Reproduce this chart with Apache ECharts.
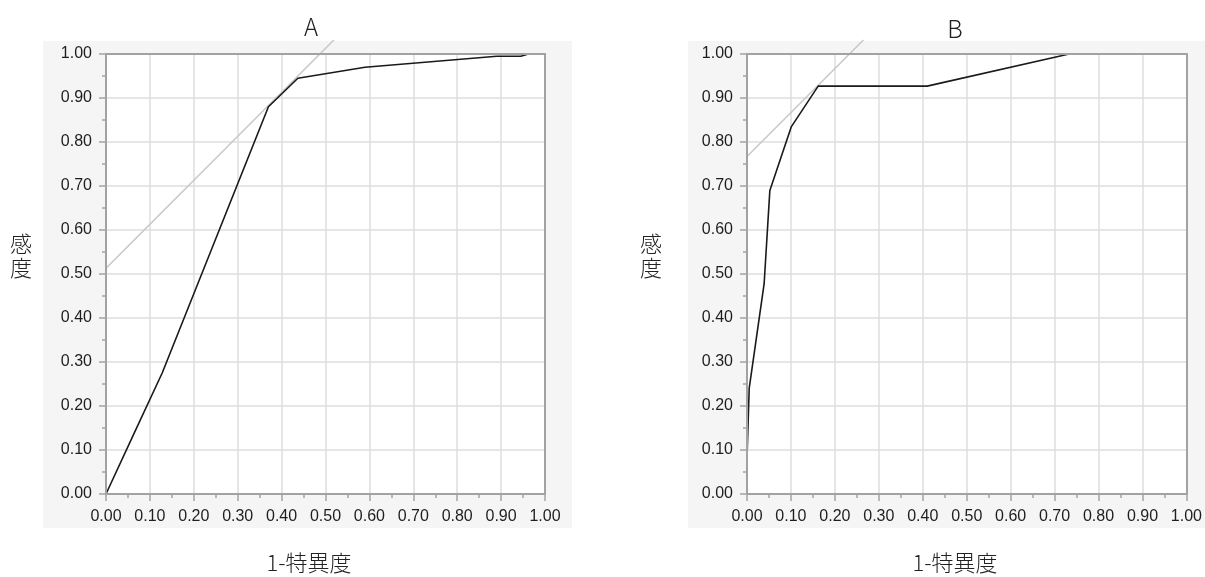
<!DOCTYPE html>
<html>
<head>
<meta charset="utf-8">
<title>ROC</title>
<script src="https://cdn.jsdelivr.net/npm/echarts@6/dist/echarts.min.js"></script>
<style>
  html, body { margin: 0; padding: 0; background: #ffffff; }
  #chart { width: 1205px; height: 577px; }
</style>
</head>
<body>
<div id="chart"></div>
<script>
// Tick labels shared by both axes of both panels
const tickLabels = ['0.00', '0.10', '0.20', '0.30', '0.40', '0.50', '0.60', '0.70', '0.80', '0.90', '1.00'];

// Panel A: ROC curve (1-specificity, sensitivity)
const rocA_fpr = [0, 0.065, 0.128, 0.37, 0.437, 0.59, 0.89, 0.945, 0.962, 1.0];
const rocA_tpr = [0, 0.14, 0.275, 0.88, 0.945, 0.97, 0.995, 0.995, 1.0, 1.0];
// Panel A: tangent line at the optimal cut-off
const tanA_x = [0, 0.519];
const tanA_y = [0.513, 1.032];

// Panel B: ROC curve
const rocB_fpr = [0, 0, 0.005, 0.039, 0.052, 0.101, 0.162, 0.41, 0.733, 1.0];
const rocB_tpr = [0, 0.08, 0.24, 0.478, 0.69, 0.835, 0.927, 0.927, 1.0, 1.0];
// Panel B: tangent line at the optimal cut-off
const tanB_x = [0, 0.265];
const tanB_y = [0.767, 1.032];

const panelTitles = ['A', 'B'];
const xName = '1-特異度';
const yName = '感\n度';

const zip = (xs, ys) => xs.map((x, i) => [x, ys[i]]);

const AXIS_COLOR = '#a2a2a2';
const GRID_COLOR = '#dedede';
const LABEL_FONT = '"Liberation Sans", Arial, Helvetica, sans-serif';
const CJK_FONT = '"Noto Sans CJK JP", "Noto Sans", sans-serif';

const fmt = v => tickLabels[Math.round(v * 10)] || '';

// Each panel gets: a main axis (line, ticks, labels, drawn above the curves),
// a border axis on the opposite side, and a gridline-only axis underneath.
function xAxesFor(g) {
  const base = { gridIndex: g, type: 'value', min: 0, max: 1, interval: 0.1 };
  return [
    Object.assign({}, base, {
      position: 'bottom', z: 3,
      axisLine: { show: true, onZero: false, lineStyle: { color: AXIS_COLOR, width: 2 } },
      axisTick: { show: true, length: 7, lineStyle: { color: AXIS_COLOR, width: 1.5 } },
      minorTick: { show: true, splitNumber: 2, length: 4, lineStyle: { color: AXIS_COLOR, width: 1.5 } },
      axisLabel: { show: true, margin: 15, color: '#1e1e1e', fontSize: 16, fontFamily: LABEL_FONT, formatter: fmt },
      splitLine: { show: false }
    }),
    Object.assign({}, base, {
      position: 'top', z: 3,
      axisLine: { show: true, onZero: false, lineStyle: { color: AXIS_COLOR, width: 2 } },
      axisTick: { show: false }, axisLabel: { show: false }, splitLine: { show: false }
    }),
    Object.assign({}, base, {
      position: 'bottom', z: 0,
      axisLine: { show: false, onZero: false }, axisTick: { show: false }, axisLabel: { show: false },
      splitLine: { show: true, lineStyle: { color: GRID_COLOR, width: 1.5 } }
    })
  ];
}

function yAxesFor(g) {
  const base = { gridIndex: g, type: 'value', min: 0, max: 1, interval: 0.1 };
  return [
    Object.assign({}, base, {
      position: 'left', z: 3,
      axisLine: { show: true, onZero: false, lineStyle: { color: AXIS_COLOR, width: 2 } },
      axisTick: { show: true, length: 7, lineStyle: { color: AXIS_COLOR, width: 1.5 } },
      minorTick: { show: true, splitNumber: 2, length: 4, lineStyle: { color: AXIS_COLOR, width: 1.5 } },
      axisLabel: { show: true, margin: 14, color: '#1e1e1e', fontSize: 16, fontFamily: LABEL_FONT, formatter: fmt },
      splitLine: { show: false }
    }),
    Object.assign({}, base, {
      position: 'right', z: 3,
      axisLine: { show: true, onZero: false, lineStyle: { color: AXIS_COLOR, width: 2 } },
      axisTick: { show: false }, axisLabel: { show: false }, splitLine: { show: false }
    }),
    Object.assign({}, base, {
      position: 'left', z: 0,
      axisLine: { show: false, onZero: false }, axisTick: { show: false }, axisLabel: { show: false },
      splitLine: { show: true, lineStyle: { color: GRID_COLOR, width: 1.5 } }
    })
  ];
}

function curve(g, data) {
  return {
    type: 'line', xAxisIndex: g * 3, yAxisIndex: g * 3, data: data,
    showSymbol: false, symbol: 'none', z: 2,
    lineStyle: { color: '#1a1a1a', width: 1.6 }, animation: false
  };
}
function tangent(g, data) {
  return {
    type: 'line', xAxisIndex: g * 3, yAxisIndex: g * 3, data: data,
    showSymbol: false, symbol: 'none', clip: false, z: 1,
    lineStyle: { color: '#c6c6c6', width: 1.4 }, animation: false
  };
}

const chart = echarts.init(document.getElementById('chart'), null, { renderer: 'canvas' });

const option = {
  animation: false,
  backgroundColor: '#ffffff',
  grid: [
    { left: 106, top: 54, width: 439, height: 440, show: true, backgroundColor: '#ffffff', borderWidth: 0 },
    { left: 747, top: 54, width: 440, height: 440, show: true, backgroundColor: '#ffffff', borderWidth: 0 }
  ],
  xAxis: xAxesFor(0).concat(xAxesFor(1)),
  yAxis: yAxesFor(0).concat(yAxesFor(1)),
  series: [
    tangent(0, zip(tanA_x, tanA_y)),
    curve(0, zip(rocA_fpr, rocA_tpr)),
    tangent(1, zip(tanB_x, tanB_y)),
    curve(1, zip(rocB_fpr, rocB_tpr))
  ],
  graphic: [
    // light panel backgrounds
    { type: 'rect', z: -10, silent: true, shape: { x: 43, y: 41, width: 529, height: 487 }, style: { fill: '#f5f5f5' } },
    { type: 'rect', z: -10, silent: true, shape: { x: 688, y: 41, width: 517, height: 487 }, style: { fill: '#f5f5f5' } },
    // panel titles
    { type: 'text', z: 10, x: 311, y: 27, style: { text: panelTitles[0], fill: '#222', font: '300 24px ' + CJK_FONT, align: 'center', verticalAlign: 'middle' } },
    { type: 'text', z: 10, x: 955, y: 29, style: { text: panelTitles[1], fill: '#222', font: '300 24px ' + CJK_FONT, align: 'center', verticalAlign: 'middle' } },
    // y-axis names (vertical)
    { type: 'text', z: 10, x: 21, y: 256, style: { text: yName, fill: '#222', font: '300 22px ' + CJK_FONT, lineHeight: 24, align: 'center', verticalAlign: 'middle' } },
    { type: 'text', z: 10, x: 651, y: 256, style: { text: yName, fill: '#222', font: '300 22px ' + CJK_FONT, lineHeight: 24, align: 'center', verticalAlign: 'middle' } },
    // x-axis names
    { type: 'text', z: 10, x: 309, y: 563, style: { text: xName, fill: '#222', font: '300 22px ' + CJK_FONT, align: 'center', verticalAlign: 'middle' } },
    { type: 'text', z: 10, x: 955, y: 563, style: { text: xName, fill: '#222', font: '300 22px ' + CJK_FONT, align: 'center', verticalAlign: 'middle' } }
  ]
};

chart.setOption(option);
</script>
</body>
</html>
